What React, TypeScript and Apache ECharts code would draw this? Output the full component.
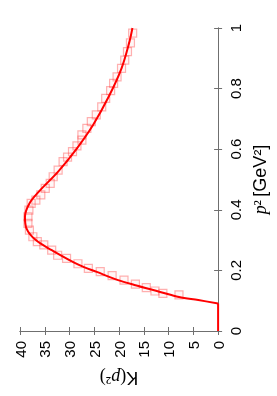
import React, { useEffect, useRef } from "react";
import * as echarts from "echarts";

// Solid curve K(p^2) (K = 0 below the threshold)
const thresholdP2 = [0, 0.091];
const thresholdK = [0, 0];
const curveP2 = [0.091, 0.102, 0.112, 0.129, 0.152, 0.168, 0.195, 0.218, 0.267, 0.3, 0.339, 0.377, 0.421, 0.46, 0.526, 0.603, 0.68, 0.773, 0.867, 0.955, 1.0];
const curveK = [0, 4.0, 7.9, 11.7, 16.9, 20.2, 24.5, 28.1, 33.6, 36.8, 38.7, 39.0, 38.1, 36.2, 32.3, 28.5, 25.25, 22.1, 19.5, 17.9, 17.3];

// Data points (open squares)
const pointP2 = [0.119, 0.124, 0.132, 0.143, 0.155, 0.168, 0.183, 0.196, 0.207, 0.222, 0.24, 0.25, 0.267, 0.284, 0.295, 0.311, 0.333, 0.355, 0.377, 0.399, 0.421, 0.432, 0.449, 0.471, 0.487, 0.509, 0.531, 0.559, 0.574, 0.592, 0.611, 0.63, 0.647, 0.669, 0.691, 0.713, 0.74, 0.768, 0.793, 0.817, 0.839, 0.867, 0.894, 0.922, 0.951, 0.983];
const pointK = [7.9, 11.15, 12.75, 14.5, 16.7, 19.0, 21.4, 23.8, 26.2, 28.3, 30.6, 32.4, 33.6, 35.2, 36.5, 37.4, 38.1, 38.4, 38.4, 38.2, 37.75, 36.8, 35.8, 34.9, 33.9, 33.3, 32.3, 31.3, 30.4, 29.4, 28.5, 27.5, 27.5, 26.5, 25.6, 24.6, 23.5, 22.7, 21.7, 21.1, 20.4, 19.5, 18.85, 18.3, 17.7, 17.25];

const kTicks = { min: 0, max: 40, interval: 5 };
const p2Ticks = { min: 0, max: 1, interval: 0.2 };

export default function App() {
  const ref = useRef<HTMLDivElement>(null);
  useEffect(() => {
    const chart = echarts.init(ref.current!, null, { renderer: "svg" });
    const frame = "#6f6f6f";
    const line = { show: true, lineStyle: { color: frame, width: 1 } };
    const tick = { show: true, inside: true, length: 4, lineStyle: { color: frame, width: 1 } };
    const label = {
      color: "#000",
      fontSize: 15,
      fontFamily: "Liberation Sans",
      showMinLabel: true,
      showMaxLabel: true,
    };
    const rich = {
      k: { fontFamily: "Liberation Sans", fontSize: 18, color: "#000" },
      s: { fontFamily: "Liberation Serif", fontSize: 18, color: "#000" },
      i: { fontFamily: "Liberation Serif", fontStyle: "italic", fontSize: 18, color: "#000" },
    };
    const lineSeries = (xs: number[], ys: number[], smooth: number) => ({
      type: "line",
      xAxisIndex: 0,
      yAxisIndex: 0,
      data: xs.map((p, i) => [ys[i], p]),
      smooth,
      showSymbol: false,
      symbol: "none",
      lineStyle: { color: "#ff0000", width: 2 },
      z: 3,
      silent: true,
    });
    chart.setOption({
      animation: false,
      grid: { left: 20, right: 49, top: 28, bottom: 65 },
      xAxis: [
        {
          type: "value",
          ...kTicks,
          inverse: true,
          position: "bottom",
          axisLine: line,
          axisTick: tick,
          splitLine: { show: false },
          axisLabel: { ...label, rotate: 90, margin: 10 },
          name: "{k|K}{s|(}{i|p}{s|²)}",
          nameLocation: "middle",
          nameGap: 38,
          nameRotate: 180,
          nameTextStyle: { rich },
        },
        {
          type: "value",
          ...kTicks,
          inverse: true,
          position: "top",
          axisLine: line,
          axisTick: tick,
          splitLine: { show: false },
          axisLabel: { show: false },
        },
      ],
      yAxis: [
        {
          type: "value",
          ...p2Ticks,
          position: "right",
          axisLine: line,
          axisTick: tick,
          splitLine: { show: false },
          axisLabel: { ...label, rotate: 90, margin: 10 },
          name: "{i|p}{s|²} {k|[GeV²]}",
          nameLocation: "middle",
          nameGap: 31,
          nameRotate: 90,
          nameTextStyle: { rich },
        },
        {
          type: "value",
          ...p2Ticks,
          position: "left",
          axisLine: line,
          axisTick: tick,
          splitLine: { show: false },
          axisLabel: { show: false },
        },
      ],
      series: [
        {
          type: "scatter",
          xAxisIndex: 0,
          yAxisIndex: 0,
          symbol: "rect",
          symbolSize: 8,
          data: pointP2.map((p, i) => [pointK[i], p]),
          itemStyle: {
            color: "rgba(255,0,0,0.04)",
            borderColor: "rgba(255,60,60,0.5)",
            borderWidth: 1.2,
          },
          silent: true,
          z: 2,
        },
        lineSeries(thresholdP2, thresholdK, 0),
        lineSeries(curveP2, curveK, 0.35),
      ],
    });
    return () => chart.dispose();
  }, []);
  return <div ref={ref} style={{ position: "fixed", left: 0, top: 0, width: 277, height: 396 }} />;
}
